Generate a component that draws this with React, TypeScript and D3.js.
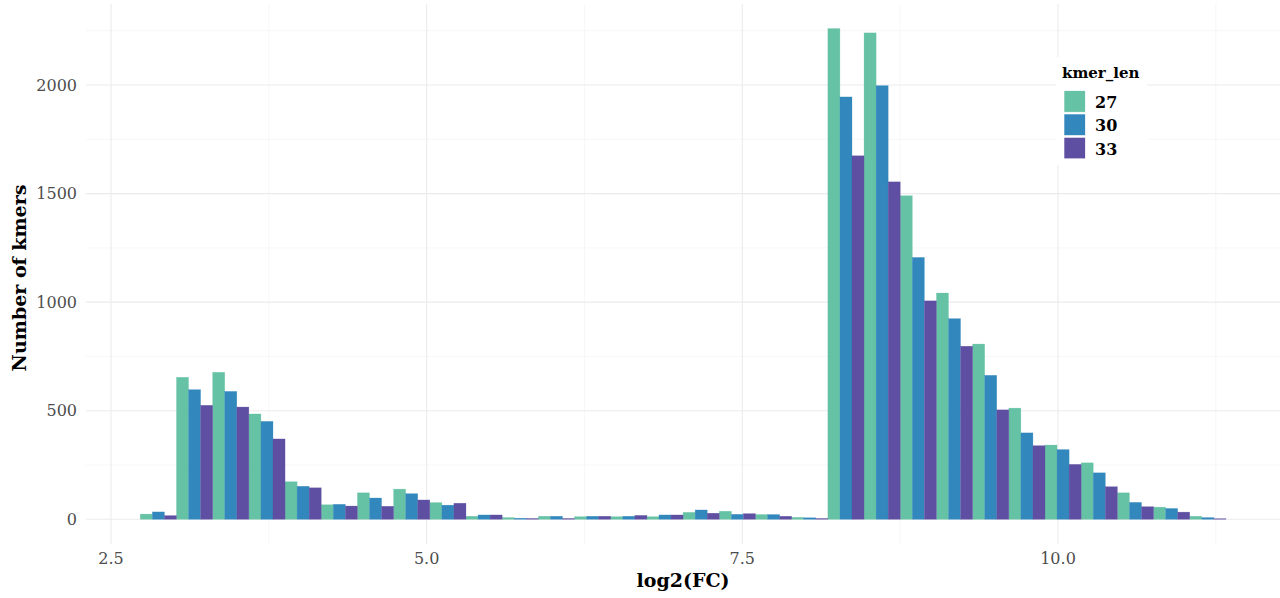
import React, { useEffect, useRef } from 'react';
import * as d3 from 'd3';

// histogram bins (30 bins, ggplot default)
const binStart = 2.732;
const binWidth = 0.2866;

const kmerLens = ['27', '30', '33'];
const colors = ['#66C2A5', '#3288BD', '#5E4FA2'];

// counts per bin, one array per kmer length
const counts27 = [24, 654, 677, 485, 173, 67, 122, 139, 77, 14, 8, 14, 12, 12, 12, 32, 37, 22, 9,
  2260, 2240, 1490, 1042, 807, 512, 342, 260, 122, 56, 14];
const counts30 = [34, 597, 589, 451, 152, 69, 98, 118, 65, 20, 5, 14, 14, 14, 20, 43, 23, 22, 7,
  1945, 1997, 1206, 924, 663, 398, 321, 214, 78, 50, 8];
const counts33 = [17, 525, 517, 370, 145, 61, 60, 89, 74, 20, 4, 4, 14, 18, 20, 28, 26, 14, 4,
  1674, 1554, 1006, 797, 504, 339, 253, 150, 58, 33, 3];

const xTicks = [2.5, 5.0, 7.5, 10.0];
const xMinor = [3.75, 6.25, 8.75, 11.25];
const yTicks = [0, 500, 1000, 1500, 2000];
const yMinor = [250, 750, 1250, 1750, 2250];

const FONT = '"DejaVu Serif", serif';

export default function App() {
  const svgRef = useRef<SVGSVGElement>(null);

  useEffect(() => {
    if (!svgRef.current) return;
    const svg = d3.select(svgRef.current);
    svg.selectAll('*').remove();

    const W = 1280, H = 598;
    const panel = { left: 86, right: 1280, top: 4, bottom: 544 };

    const x = d3.scaleLinear().domain([2.5, 10]).range([111, 1058]);
    const y = d3.scaleLinear().domain([0, 2000]).range([519.3, 85]);

    svg.attr('width', W).attr('height', H);

    // grid
    const grid = svg.append('g');
    grid.selectAll('line.yminor').data(yMinor).join('line')
      .attr('x1', panel.left).attr('x2', panel.right)
      .attr('y1', d => y(d)).attr('y2', d => y(d))
      .attr('stroke', '#f2f2f2').attr('stroke-width', 0.6);
    grid.selectAll('line.xminor').data(xMinor).join('line')
      .attr('y1', panel.top).attr('y2', panel.bottom)
      .attr('x1', d => x(d)).attr('x2', d => x(d))
      .attr('stroke', '#f2f2f2').attr('stroke-width', 0.6);
    grid.selectAll('line.ymajor').data(yTicks).join('line')
      .attr('x1', panel.left).attr('x2', panel.right)
      .attr('y1', d => y(d)).attr('y2', d => y(d))
      .attr('stroke', '#ebebeb').attr('stroke-width', 1.1);
    grid.selectAll('line.xmajor').data(xTicks).join('line')
      .attr('y1', panel.top).attr('y2', panel.bottom)
      .attr('x1', d => x(d)).attr('x2', d => x(d))
      .attr('stroke', '#ebebeb').attr('stroke-width', 1.1);

    // bars, dodged within each bin
    const series = [counts27, counts30, counts33];
    const barW = x(binStart + binWidth) - x(binStart);
    series.forEach((vals, s) => {
      svg.append('g').selectAll('rect').data(vals).join('rect')
        .attr('x', (_, i) => x(binStart + i * binWidth) + (s * barW) / 3)
        .attr('width', barW / 3)
        .attr('y', d => y(d))
        .attr('height', d => y(0) - y(d))
        .attr('fill', colors[s])
        .attr('stroke', colors[s])
        .attr('stroke-opacity', 0.5)
        .attr('stroke-width', 0.5);
    });

    // axis labels
    svg.append('g').selectAll('text').data(yTicks).join('text')
      .attr('x', 77).attr('y', d => y(d))
      .attr('dy', '0.36em')
      .attr('text-anchor', 'end')
      .attr('font-family', FONT).attr('font-size', 16)
      .attr('fill', '#4d4d4d')
      .text(d => d3.format('d')(d));

    svg.append('g').selectAll('text').data(xTicks).join('text')
      .attr('x', d => x(d)).attr('y', 564)
      .attr('text-anchor', 'middle')
      .attr('font-family', FONT).attr('font-size', 16)
      .attr('fill', '#4d4d4d')
      .text(d => d3.format('.1f')(d));

    svg.append('text')
      .attr('x', 683).attr('y', 587)
      .attr('text-anchor', 'middle')
      .attr('font-family', FONT).attr('font-size', 19).attr('font-weight', 'bold')
      .attr('fill', '#000')
      .text('log2(FC)');

    svg.append('text')
      .attr('transform', 'translate(26,278) rotate(-90)')
      .attr('text-anchor', 'middle')
      .attr('font-family', FONT).attr('font-size', 19).attr('font-weight', 'bold')
      .attr('fill', '#000')
      .text('Number of kmers');

    // legend
    const lg = svg.append('g');
    lg.append('rect')
      .attr('x', 1056).attr('y', 57).attr('width', 91).attr('height', 108)
      .attr('fill', '#fff');
    lg.append('text')
      .attr('x', 1062).attr('y', 78)
      .attr('font-family', FONT).attr('font-size', 15).attr('font-weight', 'bold')
      .text('kmer_len');
    kmerLens.forEach((k, i) => {
      lg.append('rect')
        .attr('x', 1064).attr('y', 90.7 + i * 23.3)
        .attr('width', 21.3).attr('height', 21.5)
        .attr('fill', colors[i])
        .attr('stroke', '#fff').attr('stroke-width', 0.6);
      lg.append('text')
        .attr('x', 1095).attr('y', 108 + i * 23.3)
        .attr('font-family', FONT).attr('font-size', 16).attr('font-weight', 'bold')
        .text(k);
    });
  }, []);

  return <svg ref={svgRef} style={{ position: 'absolute', left: 0, top: 0, background: '#fff' }} />;
}
